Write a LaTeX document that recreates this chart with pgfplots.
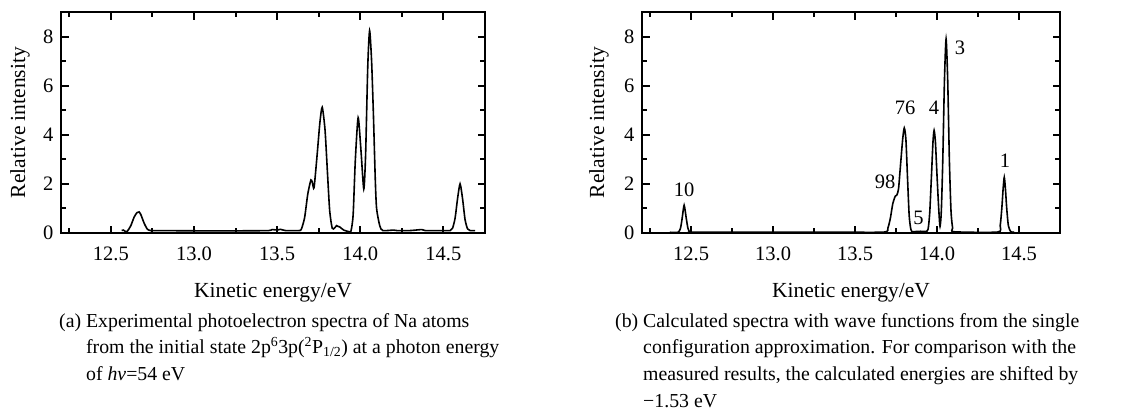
\documentclass[border=0pt]{standalone}
\usepackage{fontspec}
\setmainfont{Liberation Serif}
\usepackage{pgfplots}
\pgfplotsset{compat=1.18}

\newcommand{\fs}{\fontsize{19.8}{26.7}\selectfont}
\newcommand{\fl}{\fontsize{21.5}{26}\selectfont}
\newcommand{\ft}{\fontsize{20.5}{24}\selectfont}

\pgfplotsset{
  specax/.style={
    scale only axis,
    height=221pt,
    xmin=12.2, xmax=14.75, ymin=0, ymax=9,
    xtick={12.5,13,13.5,14,14.5},
    minor xtick={12.25,12.75,13.25,13.75,14.25},
    ytick={0,2,4,6,8},
    minor ytick={1,3,5,7},
    tick pos=both,
    tick align=inside,
    major tick length=7.5pt,
    minor tick length=5pt,
    every tick/.style={line width=2pt, black},
    axis line style={line width=2.8pt},
    /pgf/number format/assume math mode=true,
    tick label style={font=\ft},
    xticklabel style={/pgf/number format/.cd, fixed, fixed zerofill, precision=1, /tikz/.cd, yshift=-10pt},
    yticklabel style={xshift=-4pt},
    label style={font=\fl},
    xlabel={Kinetic energy/eV},
    ylabel={Relative intensity},
    xlabel style={at={(axis description cs:0.5,-0.29)}, anchor=base},
  }
}

\pgfplotstableread{
E I
12.565 0.10
12.575 0.12
12.590 0.05
12.600 0.08
12.620 0.30
12.640 0.65
12.657 0.83
12.670 0.86
12.682 0.72
12.700 0.40
12.720 0.15
12.740 0.10
12.760 0.10
13.000 0.09
13.300 0.09
13.450 0.10
13.470 0.14
13.500 0.12
13.520 0.15
13.550 0.10
13.630 0.10
13.645 0.15
13.665 0.62
13.684 1.58
13.703 2.16
13.712 2.05
13.722 1.85
13.741 3.23
13.757 4.50
13.771 5.12
13.788 4.19
13.803 2.40
13.816 0.90
13.831 0.20
13.845 0.20
13.857 0.30
13.866 0.27
13.876 0.25
13.900 0.12
13.929 0.06
13.944 0.08
13.957 0.75
13.970 2.95
13.987 4.70
14.004 3.37
14.021 1.79
14.032 3.20
14.045 6.80
14.056 8.24
14.068 7.00
14.079 4.80
14.090 2.20
14.098 1.00
14.117 0.30
14.135 0.10
14.200 0.12
14.220 0.10
14.300 0.10
14.370 0.14
14.390 0.10
14.500 0.10
14.540 0.10
14.555 0.20
14.570 0.60
14.585 1.40
14.600 2.00
14.615 1.40
14.630 0.55
14.645 0.17
14.660 0.10
14.690 0.10
}\expdata

\pgfplotstableread{
E I
12.370 0.03
12.420 0.03
12.435 0.20
12.445 0.60
12.457 1.13
12.470 0.60
12.480 0.20
12.490 0.05
12.500 0.03
12.740 0.03
13.450 0.03
13.680 0.04
13.700 0.20
13.715 0.60
13.730 1.20
13.745 1.50
13.755 1.55
13.765 1.80
13.775 2.60
13.790 3.80
13.800 4.28
13.810 3.80
13.820 2.20
13.830 0.70
13.840 0.15
13.850 0.05
13.870 0.06
13.900 0.07
13.930 0.06
13.945 0.15
13.955 0.80
13.965 2.20
13.975 3.70
13.982 4.18
13.990 3.70
14.000 2.30
14.010 1.00
14.018 0.27
14.026 0.90
14.035 3.00
14.045 6.20
14.055 7.90
14.065 6.20
14.075 3.00
14.085 0.90
14.095 0.20
14.105 0.05
14.370 0.04
14.385 0.30
14.395 1.00
14.403 1.80
14.410 2.27
14.417 1.80
14.425 1.00
14.435 0.30
14.450 0.05
14.470 0.04
}\calcdata

\begin{document}
\begin{tikzpicture}
\useasboundingbox (0,0) rectangle (1127pt,-410pt);

\begin{axis}[specax, width=424pt, at={(61pt,-233pt)}, anchor=south west,
  ylabel style={at={(axis description cs:-0.097,0.5)}, anchor=center}]
\addplot[black, line width=1.6pt, smooth, tension=0.4] table[x=E, y=I] {\expdata};
\end{axis}

\begin{axis}[specax, width=418pt, at={(642pt,-233pt)}, anchor=south west,
  ylabel style={at={(axis description cs:-0.103,0.5)}, anchor=center}]
\addplot[black, line width=1.6pt, smooth, tension=0.4] table[x=E, y=I] {\calcdata};
\node[font=\ft] at (axis cs:12.457,1.74) {10};
\node[font=\ft] at (axis cs:13.683,2.10) {98};
\node[font=\ft] at (axis cs:13.805,5.10) {76};
\node[font=\ft] at (axis cs:13.886,0.61) {5};
\node[font=\ft] at (axis cs:13.982,5.10) {4};
\node[font=\ft] at (axis cs:14.140,7.55) {3};
\node[font=\ft] at (axis cs:14.415,2.93) {1};
\end{axis}

\node[anchor=base west, inner sep=0pt, font=\fs] at (59pt,-327pt)
 {\begin{tabular}[t]{@{}l@{}l@{}}
 (a)\kern0.25em & Experimental photoelectron spectra of Na atoms\\
      & from the initial state 2p\textsuperscript{6}3p(\textsuperscript{2}P\textsubscript{1/2}) at a photon energy\\
      & of \textit{hv}=54 eV
 \end{tabular}};

\node[anchor=base west, inner sep=0pt, font=\fs] at (615pt,-327pt)
 {\begin{tabular}[t]{@{}l@{}l@{}}
 (b)\kern0.25em & Calculated spectra with wave functions from the single\\
      & configuration approximation. For comparison with the\\
      & measured results, the calculated energies are shifted by\\
      & −1.53 eV
 \end{tabular}};
\end{tikzpicture}
\end{document}
